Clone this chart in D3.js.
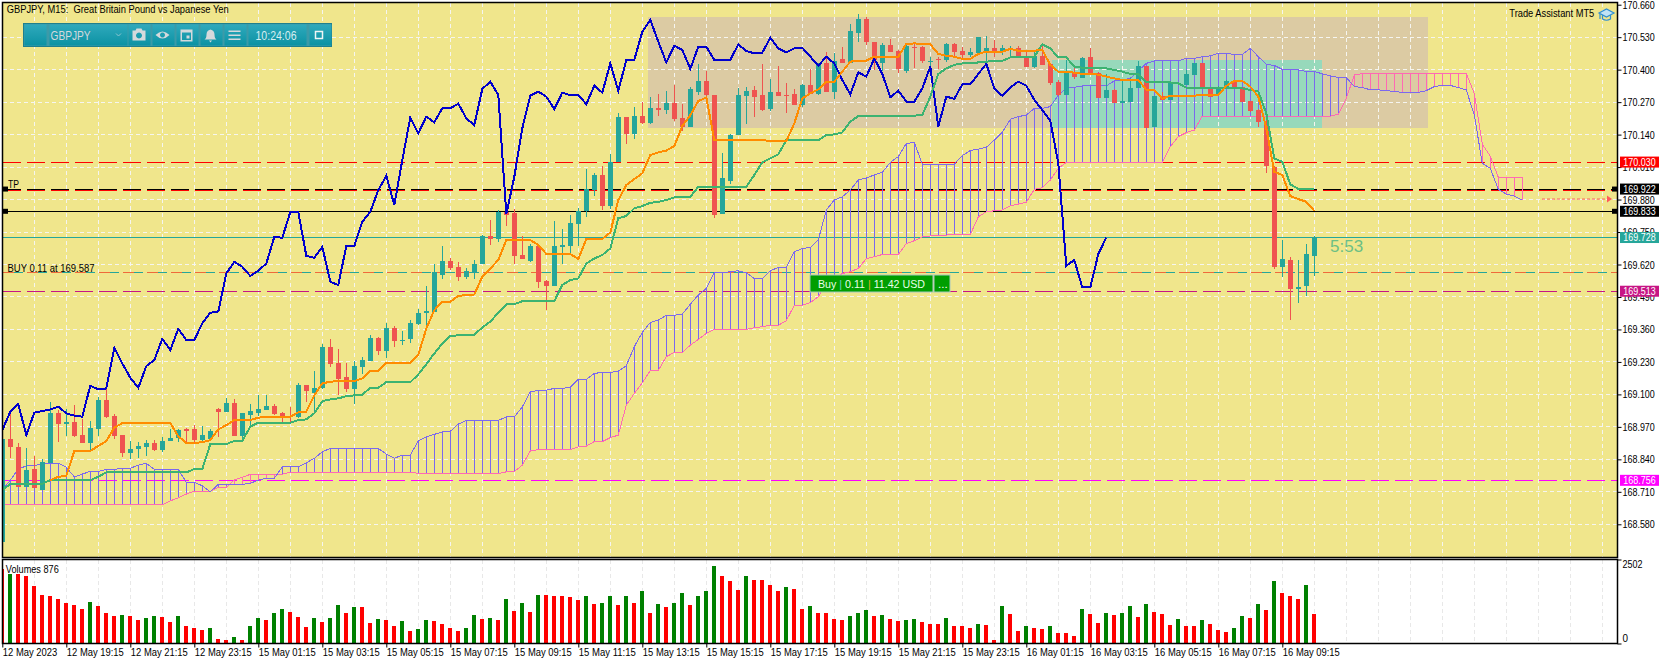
<!DOCTYPE html>
<html>
<head>
<meta charset="utf-8">
<script src="https://cdn.jsdelivr.net/npm/d3@7"></script>
<style>
  html, body { margin: 0; padding: 0; background: #fff; }
  svg { display: block; }
  text { font-family: "Liberation Sans", sans-serif; font-size: 11px; fill: #000; }
</style>
</head>
<body>
<div id="chart"></div>
<script>
const opens = [
168.510,168.921,168.890,168.730,168.800,168.717,168.824,169.027,168.983,168.988,
168.937,168.906,168.963,169.077,169.013,168.937,168.866,168.880,168.890,168.905,
168.877,168.912,168.924,168.960,168.960,168.917,168.920,169.040,169.031,169.064,
168.934,169.017,169.024,169.037,169.053,169.024,169.015,169.011,169.137,169.104,
169.125,169.288,169.224,169.168,169.121,169.211,169.235,169.324,169.274,169.367,
169.315,169.322,169.380,169.424,169.431,169.578,169.634,169.610,169.571,169.590,
169.624,169.734,169.724,169.831,169.825,169.658,169.634,169.694,169.554,169.534,
169.691,169.695,169.783,169.833,169.918,169.978,169.854,170.029,170.212,170.141,
170.214,170.185,170.245,170.238,170.266,170.206,170.172,170.309,170.355,170.298,
169.823,169.955,170.138,170.294,170.319,170.297,170.242,170.309,170.300,170.303,
170.258,170.339,170.301,170.425,170.312,170.441,170.428,170.546,170.603,170.511,
170.425,170.499,170.475,170.395,170.492,170.492,170.432,170.443,170.439,170.503,
170.476,170.459,170.468,170.471,170.488,170.472,170.481,170.485,170.452,170.409,
170.456,170.423,170.352,170.298,170.385,170.367,170.452,170.385,170.288,170.319,
170.268,170.272,170.325,170.416,170.169,170.295,170.279,170.345,170.337,170.379,
170.425,170.329,170.303,170.325,170.355,170.329,170.274,170.238,170.192,170.012,
169.611,169.640,169.523,169.535,169.655];
const highs = [
168.921,169.031,168.906,168.884,168.853,168.840,169.068,169.037,169.040,169.057,
169.003,168.993,169.089,169.120,169.021,168.937,168.912,168.909,168.917,168.916,
168.928,168.961,168.960,168.967,168.977,168.975,168.960,169.044,169.084,169.080,
169.024,169.060,169.096,169.097,169.060,169.029,169.048,169.144,169.137,169.193,
169.300,169.320,169.280,169.224,169.235,169.248,169.339,169.328,169.384,169.374,
169.354,169.398,169.440,169.534,169.622,169.694,169.647,169.630,169.604,169.638,
169.740,169.798,169.838,169.834,169.841,169.734,169.704,169.704,169.558,169.794,
169.762,169.818,169.845,170.002,169.987,170.014,170.062,170.228,170.212,170.249,
170.270,170.292,170.303,170.313,170.339,170.262,170.329,170.423,170.396,170.298,
170.065,170.141,170.328,170.329,170.336,170.423,170.361,170.415,170.345,170.321,
170.343,170.401,170.425,170.469,170.468,170.492,170.583,170.623,170.610,170.511,
170.508,170.523,170.479,170.503,170.503,170.495,170.452,170.449,170.505,170.505,
170.492,170.488,170.532,170.535,170.519,170.499,170.496,170.495,170.479,170.479,
170.499,170.425,170.359,170.439,170.405,170.449,170.488,170.392,170.383,170.321,
170.359,170.365,170.436,170.416,170.295,170.312,170.345,170.348,170.399,170.428,
170.428,170.332,170.335,170.359,170.359,170.332,170.274,170.241,170.198,170.014,
169.718,169.651,169.638,169.704,169.735];
const lows = [
168.510,168.844,168.730,168.730,168.724,168.717,168.824,168.910,168.934,168.930,
168.906,168.877,168.934,169.007,168.922,168.850,168.842,168.845,168.853,168.874,
168.868,168.912,168.910,168.906,168.910,168.910,168.917,168.930,169.031,168.934,
168.924,168.971,169.015,169.037,169.017,168.988,168.988,169.007,169.071,169.031,
169.120,169.211,169.097,169.111,169.061,169.181,169.235,169.258,169.246,169.290,
169.299,169.307,169.378,169.364,169.431,169.560,169.598,169.555,169.563,169.563,
169.622,169.698,169.711,169.774,169.622,169.642,169.631,169.524,169.437,169.534,
169.624,169.658,169.694,169.811,169.894,169.838,169.842,170.029,170.102,170.122,
170.182,170.182,170.214,170.222,170.196,170.156,170.169,170.298,170.292,169.806,
169.823,169.942,170.138,170.182,170.212,170.233,170.234,170.295,170.225,170.258,
170.249,170.301,170.298,170.312,170.281,170.428,170.425,170.512,170.499,170.399,
170.395,170.469,170.385,170.388,170.405,170.425,170.412,170.401,170.432,170.455,
170.439,170.452,170.465,170.425,170.449,170.459,170.452,170.449,170.409,170.408,
170.419,170.339,170.296,170.298,170.364,170.367,170.385,170.288,170.288,170.268,
170.268,170.272,170.325,170.168,170.169,170.279,170.279,170.339,170.337,170.379,
170.325,170.289,170.298,170.321,170.329,170.272,170.232,170.172,169.987,169.603,
169.571,169.397,169.467,169.494,169.574];
const closes = [
168.921,168.890,168.730,168.797,168.724,168.828,169.024,168.983,168.988,168.934,
168.906,168.965,169.077,169.011,168.934,168.866,168.880,168.893,168.905,168.877,
168.913,168.925,168.956,168.955,168.917,168.937,168.952,169.031,169.064,168.934,
169.024,169.033,169.040,169.053,169.021,169.011,169.011,169.137,169.115,169.125,
169.288,169.222,169.161,169.120,169.212,169.238,169.324,169.274,169.364,169.315,
169.318,169.384,169.424,169.433,169.588,169.634,169.607,169.571,169.594,169.624,
169.734,169.723,169.831,169.818,169.655,169.642,169.694,169.550,169.535,169.694,
169.698,169.786,169.833,169.921,169.978,169.854,170.029,170.212,170.141,170.214,
170.185,170.248,170.240,170.266,170.201,170.172,170.323,170.355,170.298,169.818,
169.966,170.138,170.298,170.315,170.291,170.237,170.309,170.295,170.296,170.258,
170.339,170.304,170.421,170.312,170.436,170.428,170.555,170.603,170.509,170.439,
170.499,170.472,170.401,170.495,170.488,170.436,170.435,170.439,170.503,170.472,
170.459,170.472,170.532,170.488,170.472,170.485,170.488,170.452,170.409,170.456,
170.419,170.345,170.298,170.388,170.369,170.448,170.388,170.288,170.319,170.268,
170.273,170.325,170.416,170.168,170.295,170.279,170.345,170.341,170.383,170.425,
170.329,170.292,170.329,170.355,170.329,170.272,170.234,170.192,170.015,169.611,
169.642,169.523,169.528,169.662,169.728];

const tenkan = [
null,null,null,null,null,null,168.757,168.770,168.774,168.873,
168.873,168.873,168.894,168.913,168.967,168.985,168.985,168.985,168.985,168.985,
168.985,168.985,168.933,168.905,168.905,168.909,168.917,168.960,168.977,168.997,
168.997,168.997,169.007,169.009,169.011,169.011,169.011,169.028,169.031,169.097,
169.144,169.151,169.153,169.153,169.153,169.164,169.195,169.195,169.226,169.226,
169.226,169.226,169.258,169.364,169.437,169.471,169.471,169.494,169.498,169.500,
169.571,169.604,169.638,169.718,169.718,169.718,169.718,169.698,169.662,169.662,
169.662,169.662,169.642,169.722,169.722,169.722,169.748,169.878,169.938,169.962,
169.985,170.058,170.069,170.076,170.094,170.174,170.218,170.274,170.289,170.118,
170.118,170.118,170.118,170.118,170.118,170.118,170.114,170.114,170.114,170.185,
170.285,170.305,170.321,170.352,170.352,170.392,170.432,170.436,170.436,170.452,
170.452,170.452,170.452,170.503,170.505,170.503,170.501,170.463,170.455,170.452,
170.443,170.443,170.463,170.472,170.472,170.472,170.483,170.476,170.476,170.476,
170.479,170.419,170.392,170.392,170.388,170.383,170.383,170.380,170.372,170.365,
170.359,170.359,170.359,170.319,170.319,170.283,170.296,170.296,170.296,170.296,
170.298,170.298,170.298,170.335,170.355,170.355,170.332,170.292,170.165,169.991,
169.978,169.894,169.882,169.871,169.835];
const kijun = [
168.717,168.741,168.742,168.742,168.742,168.742,168.757,168.757,168.757,168.757,
168.757,168.757,168.770,168.788,168.788,168.788,168.788,168.788,168.788,168.788,
168.788,168.788,168.788,168.788,168.801,168.801,168.901,168.901,168.901,168.914,
168.914,168.971,168.987,168.987,168.987,168.987,168.987,168.997,169.000,169.024,
169.073,169.080,169.084,169.093,169.096,169.099,169.127,169.127,169.149,169.149,
169.149,169.149,169.180,169.221,169.264,169.304,169.335,169.336,169.339,169.339,
169.368,169.391,169.427,169.460,169.461,169.473,169.473,169.473,169.473,169.473,
169.538,169.558,169.564,169.624,169.644,169.658,169.684,169.805,169.814,169.845,
169.854,169.867,169.871,169.878,169.889,169.891,169.891,169.931,169.931,169.931,
169.931,169.931,169.931,169.931,169.978,170.029,170.045,170.061,170.118,170.118,
170.118,170.118,170.118,170.138,170.141,170.149,170.192,170.214,170.216,170.216,
170.216,170.216,170.216,170.216,170.216,170.218,170.292,170.383,170.405,170.419,
170.425,170.425,170.429,170.432,170.435,170.435,170.449,170.452,170.452,170.452,
170.501,170.485,170.449,170.449,170.412,170.408,170.408,170.408,170.405,170.399,
170.392,170.383,170.383,170.349,170.349,170.349,170.349,170.345,170.328,170.328,
170.328,170.328,170.328,170.325,170.325,170.325,170.319,170.312,170.225,170.045,
170.031,169.941,169.923,169.923,169.923];
const chikou = [
168.957,169.031,169.061,168.937,169.027,169.033,169.040,169.051,169.024,169.015,
169.011,169.135,169.120,169.124,169.287,169.224,169.167,169.127,169.213,169.238,
169.322,169.278,169.362,169.318,169.318,169.384,169.427,169.432,169.584,169.631,
169.611,169.574,169.595,169.624,169.731,169.727,169.830,169.830,169.655,169.647,
169.691,169.551,169.538,169.694,169.694,169.791,169.831,169.918,169.975,169.858,
170.038,170.209,170.145,170.212,170.189,170.245,170.245,170.264,170.205,170.178,
170.323,170.352,170.298,169.822,169.971,170.165,170.296,170.312,170.292,170.242,
170.308,170.298,170.298,170.262,170.336,170.308,170.425,170.315,170.439,170.439,
170.552,170.599,170.512,170.429,170.496,170.479,170.403,170.492,170.492,170.439,
170.439,170.439,170.501,170.475,170.465,170.468,170.528,170.485,170.469,170.485,
170.488,170.452,170.416,170.452,170.425,170.359,170.301,170.389,170.372,170.445,
170.383,170.289,170.316,170.272,170.272,170.325,170.412,170.172,170.292,170.283,
170.341,170.341,170.383,170.423,170.325,170.295,170.329,170.352,170.336,170.279,
170.238,170.196,170.025,169.615,169.638,169.528,169.528,169.662,169.728];
const senkouA = [
168.717,168.757,168.801,168.814,168.814,168.824,168.824,168.824,168.808,168.770,
168.781,168.792,168.792,168.800,168.800,168.804,168.804,168.817,168.824,168.800,
168.800,168.800,168.800,168.748,168.748,168.734,168.710,168.740,168.740,168.740,
168.740,168.744,168.757,168.764,168.764,168.810,168.810,168.810,168.826,168.844,
168.870,168.884,168.884,168.884,168.884,168.884,168.884,168.884,168.861,168.844,
168.857,168.857,168.914,168.930,168.940,168.950,168.952,168.981,168.996,168.996,
168.996,168.996,168.996,169.010,169.010,169.050,169.110,169.116,169.117,169.124,
169.124,169.128,169.160,169.160,169.184,169.188,169.188,169.193,169.215,169.291,
169.348,169.388,169.397,169.417,169.417,169.421,169.461,169.498,169.524,169.587,
169.587,169.591,169.595,169.587,169.564,169.564,169.595,169.608,169.608,169.671,
169.684,169.688,169.718,169.838,169.878,169.891,169.918,169.958,169.967,169.978,
169.989,170.029,170.052,170.105,170.108,170.022,170.022,170.022,170.022,170.022,
170.056,170.076,170.082,170.089,170.118,170.149,170.201,170.212,170.218,170.245,
170.245,170.252,170.298,170.325,170.329,170.335,170.335,170.335,170.335,170.355,
170.359,170.365,170.396,170.425,170.435,170.436,170.435,170.436,170.445,170.445,
170.452,170.455,170.465,170.465,170.461,170.461,170.485,170.452,170.421,170.417,
170.401,170.399,170.399,170.393,170.393,170.383,170.375,170.369,170.369,170.332,
170.329,170.319,170.319,170.316,170.313,170.309,170.309,170.309,170.316,170.332,
170.337,170.337,170.328,170.319,170.218,170.025,170.005,169.921,169.902,169.894,
169.878];
const senkouB = [
168.658,168.658,168.658,168.658,168.658,168.658,168.658,168.658,168.658,168.658,
168.658,168.658,168.658,168.658,168.658,168.658,168.658,168.658,168.658,168.658,
168.658,168.674,168.686,168.701,168.712,168.712,168.712,168.728,168.728,168.757,
168.768,168.780,168.780,168.780,168.780,168.781,168.788,168.788,168.788,168.788,
168.788,168.788,168.788,168.788,168.788,168.788,168.788,168.788,168.788,168.788,
168.788,168.788,168.784,168.783,168.783,168.783,168.783,168.783,168.783,168.783,
168.783,168.783,168.783,168.790,168.791,168.817,168.874,168.879,168.879,168.879,
168.879,168.879,168.890,168.893,168.911,168.911,168.927,168.937,169.057,169.104,
169.146,169.196,169.196,169.251,169.268,169.268,169.297,169.320,169.344,169.360,
169.360,169.360,169.360,169.360,169.367,169.371,169.377,169.377,169.395,169.457,
169.457,169.467,169.491,169.544,169.564,169.584,169.591,169.604,169.644,169.651,
169.660,169.660,169.660,169.704,169.715,169.731,169.734,169.738,169.738,169.740,
169.740,169.740,169.811,169.831,169.835,169.838,169.855,169.862,169.869,169.921,
169.927,169.958,170.005,170.029,170.029,170.029,170.029,170.029,170.029,170.029,
170.029,170.029,170.029,170.029,170.029,170.029,170.092,170.132,170.148,170.158,
170.214,170.214,170.214,170.214,170.214,170.214,170.214,170.214,170.214,170.214,
170.214,170.214,170.214,170.214,170.214,170.214,170.214,170.222,170.285,170.379,
170.384,170.384,170.384,170.384,170.384,170.384,170.384,170.384,170.384,170.384,
170.384,170.384,170.384,170.384,170.305,170.102,170.054,169.969,169.969,169.969,
169.969];
const volumes = [
2230,2080,2080,2020,1720,1450,1420,1330,1210,1150,
1030,1240,1120,910,820,850,820,700,760,820,
790,640,820,520,460,400,460,130,100,190,
100,520,760,700,910,1030,940,790,490,760,
640,760,1150,910,1090,1090,610,730,700,520,
670,370,430,700,670,580,460,370,460,850,
730,760,700,1330,970,1210,940,1450,1450,1420,
1420,1390,1300,1420,1180,1210,1420,1150,1420,1210,
1570,910,1180,1090,1210,1510,1150,1420,1570,2300,
2020,1870,1600,2020,1900,1900,1750,1570,1690,1630,
1030,1120,910,910,730,700,820,910,1000,820,
850,730,670,700,730,640,580,580,760,520,
520,460,580,550,100,1120,880,370,520,460,
430,520,310,310,220,1030,880,610,910,850,
910,1120,790,1180,940,880,550,730,520,520,
700,580,400,340,460,820,760,1180,1000,1870,
1510,1420,1330,1750,880];

const priceTicks = [170.660,170.530,170.400,170.270,170.140,170.010,169.880,169.750,169.620,169.490,169.360,169.230,169.100,168.970,168.840,168.710,168.580];
const timeLabels = ["12 May 2023","12 May 19:15","12 May 21:15","12 May 23:15","15 May 01:15","15 May 03:15","15 May 05:15","15 May 07:15","15 May 09:15","15 May 11:15","15 May 13:15","15 May 15:15","15 May 17:15","15 May 19:15","15 May 21:15","15 May 23:15","16 May 01:15","16 May 03:15","16 May 05:15","16 May 07:15","16 May 09:15"];
const volumeTicks = [2502,0];

// [first bar, last bar, top price, bottom price]
const zoneTan = [80.75,178.2,170.610,170.168];
const zoneGreen = [131.2,165,170.439,170.168];

const levelPrices = [170.030,169.922,169.917,169.833,169.728,169.587,169.513,168.756];
const axisMarks = [
    {price:170.030,color:"#ff0000"},
    {price:169.922,color:"#000000"},
    {price:169.833,color:"#000000"},
    {price:169.728,color:"#26a69a"},
    {price:169.513,color:"#c71585"},
    {price:168.756,color:"#ff00ff"}
];

const width = 1670;
const height = 664;
const left = 2.5;
const right = 1617.5;
const top_ = 2.5;
const bottom = 557.5;
const volTop = 559.5;
const volBottom = 643.5;

const xScale = d3.scaleLinear().domain([0,200]).range([2.3,1602.3]);
const yScale = d3.scaleLinear().domain([170.66,168.58]).range([4.7,524.3]);
const volScale = d3.scaleLinear().domain([0,2502]).range([volBottom,volTop]);

const bars = opens.map((o,i)=>({i,o,h:highs[i],l:lows[i],c:closes[i]}));
const gridBars = d3.range(0,201,4);
const timeBars = timeLabels.map((d,i)=>i*8);

// the reference font is narrower than anything installed, so squeeze to the measured width
const fit = (sel,w) => sel.attr("textLength",w).attr("lengthAdjust","spacingAndGlyphs");

const svg = d3.select("#chart").append("svg").attr("width",width).attr("height",height);

svg.append("defs").append("clipPath").attr("id","plot")
    .append("rect").attr("x",left).attr("y",top_).attr("width",right-left).attr("height",bottom-top_);
svg.append("defs").append("clipPath").attr("id","volplot")
    .append("rect").attr("x",left).attr("y",volTop).attr("width",right-left).attr("height",volBottom-volTop);

svg.append("rect").attr("x",left).attr("y",top_).attr("width",right-left).attr("height",bottom-top_).attr("fill","#f0e68c");

const plot = svg.append("g").attr("clip-path","url(#plot)").attr("shape-rendering","crispEdges");

const zone = (z,color) => plot.append("rect")
    .attr("x",xScale(z[0])).attr("width",xScale(z[1])-xScale(z[0]))
    .attr("y",yScale(z[2])).attr("height",yScale(z[3])-yScale(z[2]))
    .attr("fill",color);
zone(zoneTan,"#dccba3");
zone(zoneGreen,"#97d9bb");

// grid
plot.append("g").selectAll("line").data(priceTicks.slice(1)).join("line")
    .attr("x1",left).attr("x2",right).attr("y1",d=>yScale(d)).attr("y2",d=>yScale(d))
    .attr("stroke","#f5f5f0").attr("stroke-dasharray","4 3");
plot.append("g").selectAll("line").data(gridBars.slice(1)).join("line")
    .attr("x1",d=>xScale(d)).attr("x2",d=>xScale(d)).attr("y1",top_).attr("y2",bottom)
    .attr("stroke","#f5f5f0").attr("stroke-dasharray","4 3");

// horizontal levels
const level = (price,color,dash) => plot.append("line")
    .attr("x1",left).attr("x2",right).attr("y1",yScale(price)).attr("y2",yScale(price))
    .attr("stroke",color).attr("stroke-dasharray",dash);
level(levelPrices[4],"#26a69a",null);
level(levelPrices[5],"#ef6a3a","18 6");
level(levelPrices[5],"#26a69a","9 15").attr("stroke-dashoffset",-11.5);
level(levelPrices[6],"#c71585","18 6");
level(levelPrices[7],"#ff00ff","18 6");
level(levelPrices[0],"#ff0000","18 6");
level(levelPrices[2],"#ff0000","18 6");
level(levelPrices[1],"#000000","18 6");
level(levelPrices[3],"#000000",null);

// ichimoku cloud
const cloudBars = senkouA.map((a,i)=>({i,a,b:senkouB[i]}));
plot.append("g").selectAll("line").data(cloudBars).join("line")
    .attr("x1",d=>xScale(d.i)).attr("x2",d=>xScale(d.i))
    .attr("y1",d=>yScale(d.a)).attr("y2",d=>yScale(d.b))
    .attr("stroke",d=>d.a>=d.b?"#7b68ee":"#ff69b4");
const lineOf = d3.line().defined(d=>d!=null).x((d,i)=>xScale(i)).y(d=>yScale(d));
plot.append("path").datum(senkouB).attr("d",lineOf).attr("fill","none").attr("stroke","#ff69b4");
plot.append("path").datum(senkouA).attr("d",lineOf).attr("fill","none").attr("stroke","#7b68ee");

// candles
const candleColor = d => d.c>=d.o ? "#26a69a" : "#ef5350";
plot.append("g").selectAll("line").data(bars).join("line")
    .attr("x1",d=>xScale(d.i)).attr("x2",d=>xScale(d.i))
    .attr("y1",d=>yScale(d.h)).attr("y2",d=>yScale(d.l))
    .attr("stroke",candleColor);
plot.append("g").selectAll("rect").data(bars).join("rect")
    .attr("x",d=>xScale(d.i)-2.5).attr("width",5)
    .attr("y",d=>yScale(Math.max(d.o,d.c)))
    .attr("height",d=>Math.max(1,yScale(Math.min(d.o,d.c))-yScale(Math.max(d.o,d.c))))
    .attr("fill",candleColor);

// indicator lines
plot.append("path").datum(chikou).attr("d",lineOf).attr("fill","none").attr("stroke","#0000cd").attr("stroke-width",2);
plot.append("path").datum(kijun).attr("d",lineOf).attr("fill","none").attr("stroke","#3cb371").attr("stroke-width",2);
plot.append("path").datum(tenkan).attr("d",lineOf).attr("fill","none").attr("stroke","#ff8c00").attr("stroke-width",2);

// volume panel
const volPlot = svg.append("g").attr("clip-path","url(#volplot)").attr("shape-rendering","crispEdges");
volPlot.append("g").selectAll("line").data(gridBars.slice(1)).join("line")
    .attr("x1",d=>xScale(d)).attr("x2",d=>xScale(d)).attr("y1",volTop).attr("y2",volBottom)
    .attr("stroke","#e8e8e8").attr("stroke-dasharray","4 3");
volPlot.append("g").selectAll("rect").data(volumes).join("rect")
    .attr("x",(d,i)=>xScale(i)-2).attr("width",4)
    .attr("y",d=>volScale(d)).attr("height",d=>volBottom-volScale(d))
    .attr("fill",(d,i)=> (d>volumes[i-1] || i==1) ? "#008000" : "#ff0000");

// frames
svg.append("rect").attr("x",left).attr("y",top_).attr("width",right-left).attr("height",bottom-top_)
    .attr("fill","none").attr("stroke","#000").attr("stroke-width",1.5);
svg.append("rect").attr("x",left).attr("y",volTop).attr("width",right-left).attr("height",volBottom-volTop)
    .attr("fill","none").attr("stroke","#000").attr("stroke-width",1.5);

// axes
const priceAxis = svg.append("g").attr("transform",`translate(${right},0)`)
    .call(d3.axisRight(yScale).tickValues(priceTicks).tickFormat(d3.format(".3f")).tickSize(4).tickPadding(1));
priceAxis.select(".domain").remove();

const timeAxis = svg.append("g").attr("transform",`translate(0,${volBottom})`)
    .call(d3.axisBottom(xScale).tickValues(timeBars).tickFormat((d,i)=>timeLabels[i]).tickSize(4).tickPadding(1));
timeAxis.select(".domain").remove();
timeAxis.selectAll("text").attr("text-anchor","start");

const volAxis = svg.append("g").attr("transform",`translate(${right},0)`)
    .call(d3.axisRight(volScale).tickValues(volumeTicks).tickFormat(d3.format("d")).tickSize(4).tickPadding(1));
volAxis.select(".domain").remove();
volAxis.selectAll("text").attr("dy",d=>d==0?"-0.2em":"0.75em");
svg.selectAll(".tick text").style("font-size","11px").style("font-family","'Liberation Sans',sans-serif").style("fill","#000");
svg.selectAll(".tick line").attr("stroke","#000");
priceAxis.selectAll("text").call(fit,32.3);
timeAxis.selectAll("text").call(fit,57);
timeAxis.select("text").call(fit,54.5);
volAxis.selectAll("text").attr("textLength",d=>d==0?5.5:20).attr("lengthAdjust","spacingAndGlyphs");

// price marks on the axis
const marks = svg.append("g").selectAll("g").data(axisMarks).join("g")
    .attr("transform",d=>`translate(1620,${yScale(d.price)})`);
marks.append("rect").attr("y",-5.5).attr("width",39).attr("height",11).attr("fill",d=>d.color);
marks.append("text").attr("x",3.3).attr("dy","0.36em").style("fill","#fff").text(d=>d.price.toFixed(3)).call(fit,32.3);

// level handles
svg.append("g").selectAll("rect").data([169.922,169.833]).join("rect")
    .attr("x",3).attr("width",5).attr("height",5).attr("y",d=>yScale(d)-2.5).attr("fill","#000");
svg.append("g").selectAll("rect").data([169.922,169.833]).join("rect")
    .attr("x",1612).attr("width",5).attr("height",5).attr("y",d=>yScale(d)-2.5).attr("fill","#000");

// texts in the chart
svg.append("text").attr("x",6.7).attr("y",13).attr("xml:space","preserve").text("GBPJPY, M15:  Great Britain Pound vs Japanese Yen").call(fit,222);
svg.append("text").attr("x",8).attr("y",188).text("TP").call(fit,11);
svg.append("text").attr("x",7.5).attr("y",272).text("BUY 0.11 at 169.587").call(fit,87);
svg.append("text").attr("x",5.8).attr("y",573).text("Volumes 876").call(fit,53);
svg.append("text").attr("x",1509.3).attr("y",17).text("Trade Assistant MT5").call(fit,85);
svg.append("text").attr("x",1330).attr("y",252).style("font-size","17px").style("fill","#6cbf84").text("5:53");

// graduation cap
const cap = svg.append("g").attr("transform","translate(1599,8)").attr("fill","none").attr("stroke","#2f8fd0").attr("stroke-width",1.2);
cap.append("path").attr("d","M0 5 L7.5 1 L15 5 L7.5 9 Z").attr("fill","#bfe3f5");
cap.append("path").attr("d","M3.5 7 V11 Q7.5 13.5 11.5 11 V7");
cap.append("path").attr("d","M1 6 V11");

// forecast arrow
svg.append("line").attr("x1",1542).attr("x2",1610).attr("y1",yScale(169.88)-0.5).attr("y2",yScale(169.88)-0.5)
    .attr("stroke","#ff5a5a").attr("stroke-dasharray","3 2");
svg.append("path").attr("d",d3.line()([[1612,yScale(169.88)-0.5],[1612-5,yScale(169.88)-4],[1612-5,yScale(169.88)+3]])).attr("fill","#ff5a5a");

// buy button
const buy = svg.append("g").attr("transform",`translate(810,275)`);
buy.append("rect").attr("width",123).attr("height",17).attr("fill","#009e00").attr("stroke","#a8c8c0");
buy.append("rect").attr("x",124).attr("width",16).attr("height",17).attr("fill","#009e00").attr("stroke","#a8c8c0");
const buyText = buy.append("text").attr("x",8).attr("y",13).style("font-size","11.5px").style("fill","#e8ffe8");
buyText.append("tspan").text("Buy ");
buyText.append("tspan").style("fill","#7fd0d0").text("|");
buyText.append("tspan").text(" 0.11 ");
buyText.append("tspan").style("fill","#e0b030").text("|");
buyText.append("tspan").text(" 11.42 USD");
buyText.call(fit,107);
buy.append("text").attr("x",128).attr("y",13).style("font-size","11.5px").style("fill","#fff").text("...");

// toolbar
const toolbarCells = [[0,22],[25,78],[104,22],[128,22],[152,22],[176,22],[200,22],[224,58],[285,22]];
const grad = svg.select("defs").append("linearGradient").attr("id","tool").attr("x1",0).attr("x2",0).attr("y1",0).attr("y2",1);
grad.append("stop").attr("offset",0).attr("stop-color","#2fa9bc");
grad.append("stop").attr("offset",1).attr("stop-color","#0c92a3");
const toolbar = svg.append("g").attr("transform","translate(23.5,23.5)");
toolbar.append("rect").attr("width",308).attr("height",23).attr("fill","#3c9aa8").attr("stroke","#1f7f8e");
toolbar.selectAll(".cell").data(toolbarCells).join("rect").attr("class","cell")
    .attr("x",d=>d[0]+1).attr("y",1).attr("width",d=>d[1]).attr("height",21).attr("fill","url(#tool)");
toolbar.append("text").attr("x",27).attr("y",16).style("font-size","12px").style("fill","#d5d9dc").text("GBPJPY").call(fit,40);
toolbar.append("text").attr("x",232).attr("y",16).style("font-size","12px").style("fill","#d8eef0").text("10:24:06").call(fit,41);
const icon = toolbar.append("g").attr("fill","#d5d9dc").attr("stroke","none");
icon.append("path").attr("d","M92.500 10 l2.500 2.500 l2.500 -2.500").attr("fill","none").attr("stroke","#8fc6d0");
icon.append("path").attr("fill-rule","evenodd").attr("d","M109 7 h3 l1 -2 h5 l1 2 h3 v10 h-13 z M115.500 9 a3 3 0 1 0 0.01 0 z");
icon.append("path").attr("fill-rule","evenodd").attr("d","M132 11.500 q7 -7 14 0 q-7 7 -14 0 z M139 9 a2.500 2.500 0 1 0 0.01 0 z");
icon.append("path").attr("fill-rule","evenodd").attr("d","M157 6 h12 v12 h-12 z M158.500 9 v7.500 h9 v-7.500 z");
icon.append("rect").attr("x",163).attr("y",12).attr("width",3).attr("height",3);
icon.append("path").attr("d","M181 16 q2 -1 2 -5 q0 -4 4 -5 q4 1 4 5 q0 4 2 5 z M185.500 17 h3 l-1.500 2 z");
icon.append("rect").attr("x",205).attr("y",7).attr("width",12).attr("height",1.500);
icon.append("rect").attr("x",205).attr("y",11).attr("width",12).attr("height",1.500);
icon.append("rect").attr("x",205).attr("y",15).attr("width",12).attr("height",1.500);
icon.append("rect").attr("x",292).attr("y",8).attr("width",7).attr("height",7).attr("fill","none").attr("stroke","#f0f5f5").attr("stroke-width",1.500);
</script>
</body>
</html>
